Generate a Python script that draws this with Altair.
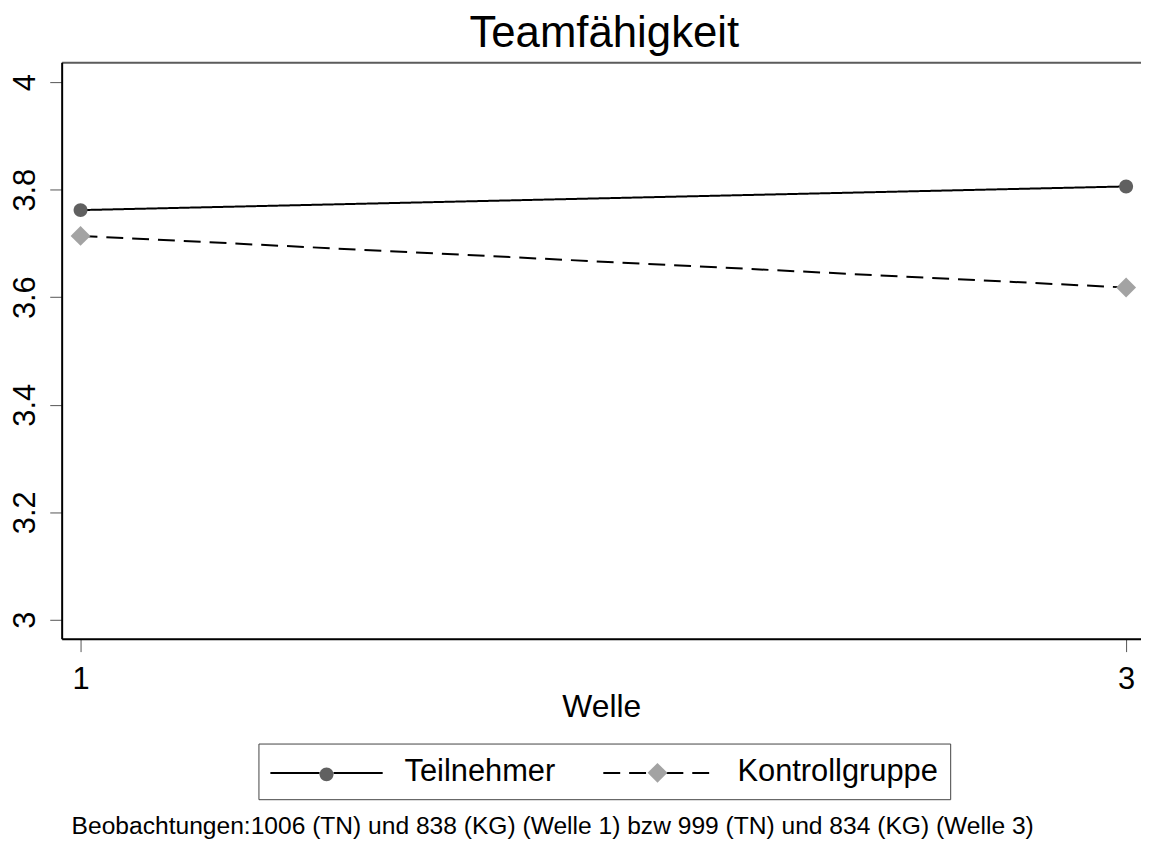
import altair as alt
import pandas as pd

# ---- data ----
WELLEN = [1, 3]
TEILNEHMER = [3.762, 3.806]
KONTROLLGRUPPE = [3.714, 3.618]
GRUPPEN = ["Teilnehmer", "Kontrollgruppe"]
KUERZEL = ["TN", "KG"]
FARBEN = ["#606060", "#a3a3a3"]
Y_TICKS = [3, 3.2, 3.4, 3.6, 3.8, 4]
X_TICKS = [1, 3]
TITEL = "Teamfähigkeit"
X_TITEL = "Welle"
NOTIZ = "Beobachtungen:1006 (TN) und 838 (KG) (Welle 1) bzw 999 (TN) und 834 (KG) (Welle 3)"

FONT = "Liberation Sans"

rows = []
for g, k, werte in zip(GRUPPEN, KUERZEL, [TEILNEHMER, KONTROLLGRUPPE]):
    for w, v in zip(WELLEN, werte):
        rows.append({"welle": w, "wert": v, "gruppe": g, "kurz": k})
df = pd.DataFrame(rows)
notiz_df = pd.DataFrame({"notiz": [NOTIZ]})

# symbol paths (unit coordinates, scaled by sqrt(size)/2)
LINE_PATH = "M-1.065,0.065L2.129,0.065M3.032,0.065L6.226,0.065"
CIRCLE_PATH = "M-1,0M-0.7,0A0.7,0.7,0,1,1,0.7,0A0.7,0.7,0,1,1,-0.7,0Z"
DIAMOND_PATH = "M-1,0M0,-1L1,0L0,1L-1,0Z"

x_scale = alt.Scale(domain=[0.9639, 3.0285], nice=False, zero=False)
y_scale = alt.Scale(domain=[2.9649, 4.037], nice=False, zero=False)

y_axis = alt.Axis(
    values=Y_TICKS, format="~g", title=None,
    labelFontSize=31, labelFont=FONT, labelColor="black",
    labelAngle=270, labelAlign="center", labelBaseline="bottom",
    labelPadding=8.5, tickSize=12, tickColor="#555555", tickWidth=1,
    domainColor="black", domainWidth=2, grid=False, labelFlush=False,
)
y_enc = alt.Y("wert:Q", scale=y_scale, axis=y_axis)

x_axis_bottom = alt.Axis(
    values=X_TICKS, format="d", title=X_TITEL,
    labelFontSize=31, labelFont=FONT, labelColor="black", labelPadding=13,
    labelFlush=False, tickSize=13, tickColor="#555555", tickWidth=1,
    domainColor="black", domainWidth=2, grid=False,
    titleFontSize=32, titleFont=FONT, titleFontWeight="normal",
    titleColor="black", titleBaseline="alphabetic", titleY=78,
)
x_axis_top = alt.Axis(
    orient="top", labels=False, ticks=False, title=None, grid=False,
    domainColor="#5c5c5c", domainWidth=2,
)

leg_line = alt.Legend(
    orient="none", legendX=198, legendY=685.5, direction="horizontal",
    title=None, symbolType=LINE_PATH, symbolSize=961, symbolStrokeWidth=2,
    symbolStrokeColor="black", padding=12, strokeColor="#444444",
    labelFont=FONT, labelFontSize=31, labelColor="black", labelOffset=102,
    columnPadding=43, labelLimit=400,
    labelExpr="datum.label == 'TN' ? 'Teilnehmer' : 'Kontrollgruppe'",
)
leg_mark = alt.Legend(
    orient="none", legendX=256.5, legendY=705, direction="horizontal",
    title=None, symbolSize=400, symbolStrokeWidth=0, padding=0,
    labelFont=FONT, labelFontSize=1, labelOpacity=0, labelOffset=0,
    columnPadding=308, labelLimit=400,
)

base = alt.Chart(df)

linien = base.mark_line(color="black", strokeWidth=2).encode(
    x=alt.X("welle:Q", scale=x_scale, axis=x_axis_bottom),
    y=y_enc,
    strokeDash=alt.StrokeDash(
        "kurz:N",
        scale=alt.Scale(domain=KUERZEL, range=[[1, 0], [17, 9]]),
        legend=leg_line,
    ),
)

punkte = base.mark_point(filled=True, size=400, opacity=1, strokeWidth=0).encode(
    x=alt.X("welle:Q", scale=x_scale, axis=x_axis_top),
    y=y_enc,
    color=alt.Color("gruppe:N", scale=alt.Scale(domain=GRUPPEN, range=FARBEN), legend=leg_mark),
    shape=alt.Shape("gruppe:N", scale=alt.Scale(domain=GRUPPEN, range=[CIRCLE_PATH, DIAMOND_PATH]), legend=leg_mark),
)

notiz = alt.Chart(notiz_df).mark_text(
    align="left", baseline="alphabetic", fontSize=24.75, font=FONT, color="black"
).encode(x=alt.value(10), y=alt.value(777), text="notiz:N")

chart = (
    alt.layer(linien, punkte, notiz)
    .resolve_axis(x="independent")
    .properties(
        width=1086,
        height=580,
        autosize=alt.AutoSizeParams(type="none"),
        padding={"left": 54, "top": 52, "right": 0, "bottom": 203},
        title=alt.TitleParams(
            TITEL, fontSize=44, font=FONT, fontWeight="normal", color="black",
            anchor="middle", frame="group", baseline="alphabetic", offset=12,
            dy=41, dx=3,
        ),
    )
    .configure_view(strokeWidth=0)
    .configure(font=FONT)
)

chart.save("out.html", embed_options={"renderer": "svg", "actions": False})
